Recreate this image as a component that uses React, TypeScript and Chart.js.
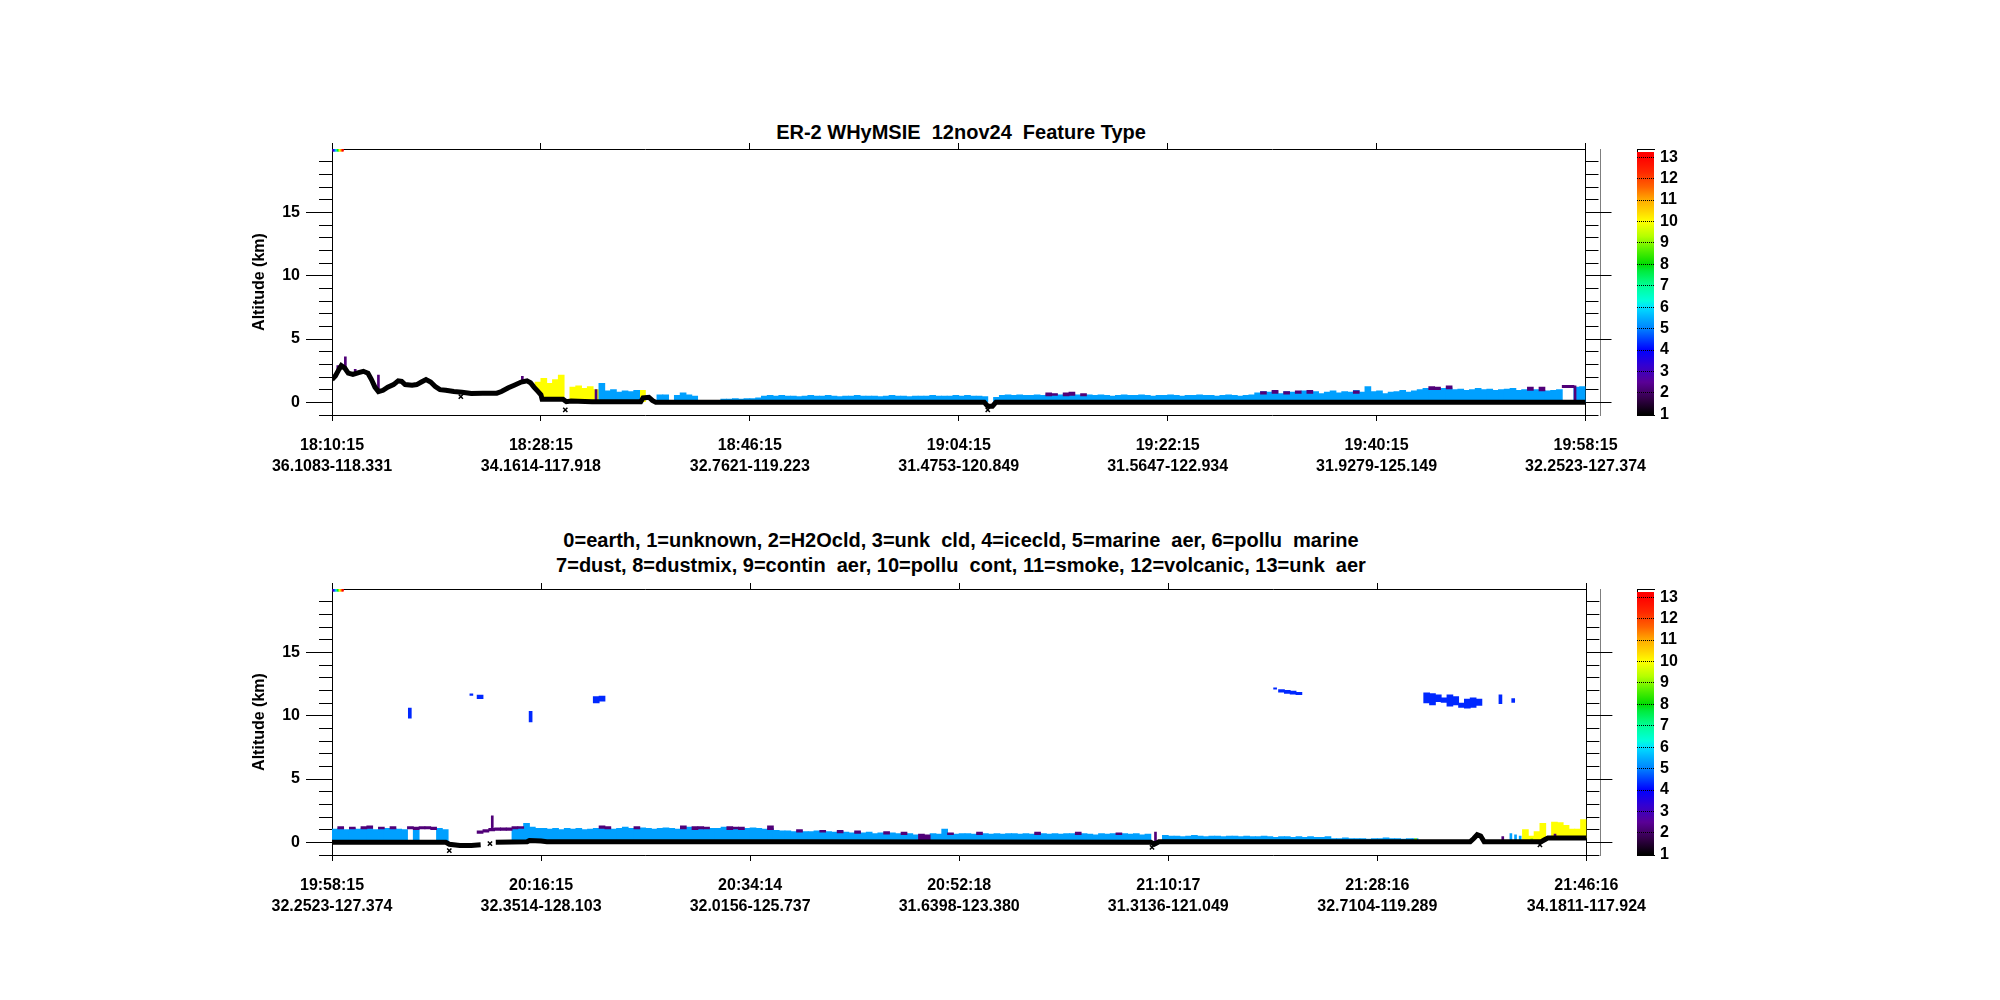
import React, { useEffect, useRef } from "react";
import { Chart, registerables } from "chart.js";

Chart.register(...registerables);

const FONT = "'Liberation Sans', Arial, Helvetica, sans-serif";
const COL = 0.5; // width of one lidar column, minutes

// ---------- axis labels ----------
const xTickMinutes = [0, 18, 36, 54, 72, 90, 108];
const p1TimeLabels = ["18:10:15", "18:28:15", "18:46:15", "19:04:15", "19:22:15", "19:40:15", "19:58:15"];
const p1PosLabels = ["36.1083-118.331", "34.1614-117.918", "32.7621-119.223", "31.4753-120.849", "31.5647-122.934", "31.9279-125.149", "32.2523-127.374"];
const p2TimeLabels = ["19:58:15", "20:16:15", "20:34:14", "20:52:18", "21:10:17", "21:28:16", "21:46:16"];
const p2PosLabels = ["32.2523-127.374", "32.3514-128.103", "32.0156-125.737", "31.6398-123.380", "31.3136-121.049", "32.7104-119.289", "34.1811-117.924"];
const yMajorTicks = [0, 5, 10, 15];
const yMinorTicks = [-1, 1, 2, 3, 4, 6, 7, 8, 9, 11, 12, 13, 14, 16, 17, 18, 19];
const colorbarTicks = [1, 2, 3, 4, 5, 6, 7, 8, 9, 10, 11, 12, 13];

// ---------- feature type colours ----------
const TYPE_COLORS: Record<number, string> = {
  1: "rgb(30,0,40)",
  2: "rgb(80,0,120)",
  3: "rgb(60,0,200)",
  4: "rgb(0,40,255)",
  5: "rgb(0,160,255)",
  6: "rgb(0,230,240)",
  7: "rgb(0,240,140)",
  8: "rgb(0,220,0)",
  9: "rgb(160,255,0)",
  10: "rgb(255,255,0)",
  11: "rgb(255,170,0)",
  12: "rgb(255,80,0)",
  13: "rgb(255,0,0)",
};

// colour bar (rainbow + white table)
const CB_MIN = 0.97;
const CB_MAX = 13.38;
const CB_LO = 0.97;
const CB_HI = 13.22;
const colorbarStopValues = [1.0, 1.7, 2.5, 3.3, 4.0, 4.7, 5.0, 5.5, 6.0, 6.3, 7.0, 7.7, 8.0, 8.7, 9.3, 10.0, 10.5, 11.0, 11.6, 12.3, 13.0, 13.22];
const colorbarStopColors = [
  "rgb(0,0,0)", "rgb(50,0,70)", "rgb(90,0,150)", "rgb(50,0,210)", "rgb(0,0,255)", "rgb(0,90,255)",
  "rgb(0,130,255)", "rgb(0,175,255)", "rgb(0,225,255)", "rgb(0,255,220)", "rgb(0,255,150)", "rgb(0,235,60)",
  "rgb(0,220,0)", "rgb(90,240,0)", "rgb(180,255,0)", "rgb(255,255,0)", "rgb(255,210,0)", "rgb(255,170,0)",
  "rgb(255,100,0)", "rgb(255,40,0)", "rgb(255,0,0)", "rgb(255,0,0)",
];

// calibration strip in the top-left corner of each curtain
const stripMinutes = [0.06, 0.14, 0.22, 0.3, 0.38, 0.46, 0.54, 0.62, 0.7, 0.78, 0.86, 0.94];
const stripTypes = [2, 3, 4, 5, 6, 7, 8, 9, 10, 11, 12, 13];

type Run = [number, number[]]; // [first column, layer tops (km)]
type Cap = [number, number, number]; // [column, bottom km, top km]
type Thin = [number, number, number]; // [minute, bottom km, top km]

// ---------- plot 1 : 18:10:15 - 19:58:15 ----------
const p1GroundMin = [0, 0.3, 0.6, 0.8, 1.1, 1.4, 1.8, 2.3, 2.7, 3.1, 3.4, 3.7, 4.0, 4.4, 4.8, 5.3, 5.7, 6.0, 6.3, 6.9, 7.3, 7.7, 8.1, 8.5, 8.9, 9.3, 9.8, 10.5, 11.2, 12, 13, 14.2, 14.6, 15.2, 15.7, 16.3, 16.8, 17.1, 17.4, 17.7, 18.0, 18.1, 19.9, 20.2, 20.6, 22.4, 26.6, 26.8, 27.3, 27.6, 27.9, 56.2, 56.5, 56.9, 57.2, 108];
const p1GroundKm: (number | null)[] = [1.8, 2.1, 2.6, 2.9, 2.7, 2.3, 2.2, 2.35, 2.45, 2.3, 1.8, 1.2, 0.85, 0.95, 1.2, 1.4, 1.7, 1.65, 1.4, 1.35, 1.4, 1.6, 1.8, 1.6, 1.25, 1.0, 0.95, 0.85, 0.8, 0.7, 0.72, 0.72, 0.85, 1.15, 1.35, 1.6, 1.7, 1.55, 1.2, 0.9, 0.6, 0.25, 0.25, 0.05, 0.1, 0.05, 0.05, 0.35, 0.4, 0.15, 0.0, 0.0, -0.3, -0.3, 0.0, 0.0];
const p1OutlierMin = [11.1, 20.1, 56.5];
const p1OutlierKm = [0.45, -0.6, -0.6];
const p1MarineRuns: Run[] = [
  [46, [1.5, 0.9, 1.0, 0.8, 0.9, 0.85, 0.95]],
  [56, [0.6, 0.6]],
  [59, [0.55, 0.75, 0.6, 0.5]],
  [67, [0.25, 0.25, 0.3, 0.25, 0.3, 0.3, 0.35, 0.5]],
  [75, [0.55, 0.5, 0.55, 0.5, 0.5, 0.45, 0.5, 0.55, 0.5, 0.5, 0.55, 0.5, 0.45, 0.5, 0.5, 0.55, 0.5, 0.5, 0.5, 0.45, 0.5, 0.55, 0.5, 0.5, 0.45, 0.5, 0.5, 0.5, 0.55, 0.5, 0.5, 0.5, 0.55, 0.5, 0.55, 0.5, 0.5, 0.45]],
  [114, [0.4, 0.55, 0.6, 0.55, 0.6, 0.55, 0.55, 0.6, 0.55, 0.6, 0.65, 0.6, 0.6, 0.65, 0.6, 0.55, 0.6, 0.55, 0.6, 0.55, 0.5, 0.55, 0.6, 0.55, 0.55, 0.6, 0.55, 0.5, 0.55, 0.55, 0.6, 0.55, 0.5, 0.55, 0.55, 0.6, 0.55, 0.55, 0.5, 0.55, 0.6, 0.55, 0.5, 0.55, 0.6]],
  [159, [0.75, 0.85, 0.8, 0.9, 0.7, 0.85, 0.8, 0.75, 0.9, 0.8, 0.85, 0.7, 0.8, 0.9, 0.75, 0.85, 0.8, 0.95, 0.8, 1.25, 0.85, 0.9, 0.7, 0.8, 0.85, 0.95, 0.8, 0.9]],
  [187, [1.0, 1.1, 1.05, 1.0, 1.1, 1.15, 1.0, 1.05, 0.95, 1.0, 1.1, 1.0, 1.05, 0.95, 1.0, 1.05, 1.1, 0.95, 1.0, 0.95, 1.0, 0.95, 0.9, 0.95, 1.0]],
  [214, [1.2, 1.25]],
];
const p1MarineThin: Thin[] = [];
const p1YellowRuns: Run[] = [
  [35, [1.6, 1.9, 1.5, 1.8, 2.15]],
  [41, [1.2, 1.3, 1.1, 1.25, 1.0]],
  [53, [0.95]],
];
const p1PurpleCaps: Cap[] = [
  [123, 0.5, 0.75], [124, 0.55, 0.7], [126, 0.5, 0.75], [127, 0.55, 0.8], [129, 0.5, 0.7],
  [160, 0.65, 0.85], [162, 0.7, 0.95], [164, 0.65, 0.85], [166, 0.7, 0.9], [168, 0.7, 0.95], [176, 0.7, 0.9],
  [189, 1.0, 1.25], [190, 1.0, 1.2], [192, 1.05, 1.3], [206, 0.95, 1.2], [208, 0.9, 1.2], [212, 1.15, 1.35], [213, 1.15, 1.35],
];
const p1PurpleThin: Thin[] = [
  [0.5, 2.4, 2.9], [1.15, 2.8, 3.6], [2.0, 2.35, 2.6], [4.0, 1.0, 2.15], [16.4, 1.7, 2.05], [22.75, 0.1, 1.0], [107.1, 0.1, 1.3],
];
const p1IceCaps: Cap[] = [];
const p1IceThin: Thin[] = [];
const p1GreenThin: Thin[] = [];

// ---------- plot 2 : 19:58:15 - 21:46:16 ----------
const p2GroundMin = [0, 9.8, 10.1, 11, 12, 12.8, 13.4, 14.1, 16.8, 17.0, 18.0, 18.5, 40, 70.5, 70.8, 71.2, 98, 98.3, 98.6, 98.9, 99.2, 104.1, 104.4, 104.7, 108];
const p2GroundKm: (number | null)[] = [0, 0, -0.15, -0.25, -0.25, -0.2, null, 0, 0.05, 0.15, 0.1, 0.05, 0.05, 0.0, -0.15, 0.05, 0.05, 0.3, 0.6, 0.5, 0.05, 0.05, 0.2, 0.35, 0.35];
const p2OutlierMin = [10.1, 13.6, 70.6, 104.0];
const p2OutlierKm = [-0.65, -0.1, -0.4, -0.2];
const p2MarineRuns: Run[] = [
  [0, [1.05, 1.1, 1.0, 1.1, 1.05, 1.1, 1.1, 1.0, 1.05, 1.1, 1.1, 1.05, 1.0]],
  [14, [1.0]],
  [18, [1.1, 1.0]],
  [31, [1.1, 1.15, 1.5, 1.2, 1.1, 1.1, 1.05, 1.1, 1.0, 1.1, 1.05, 1.1, 1.0, 1.05, 1.1, 1.1, 1.15, 1.05, 1.1, 1.2, 1.1, 1.05, 1.15, 1.1, 1.05, 1.1, 1.15, 1.1, 1.05, 1.1, 1.2, 1.1, 1.15, 1.05, 1.1, 1.1, 1.2, 1.15, 1.1, 1.05, 1.1, 1.15, 1.1, 1.05, 1.1]],
  [76, [0.95, 0.9, 0.9, 0.85, 0.9, 0.85, 0.85, 0.9, 0.8, 0.85, 0.8, 0.85, 0.8, 0.75, 0.8, 0.75, 0.8, 0.7, 0.75, 0.7, 0.75, 0.7, 0.65, 0.7, 0.6]],
  [103, [0.7, 0.65, 1.05, 0.7, 0.65, 0.7, 0.7, 0.65, 0.7, 0.7, 0.65, 0.7, 0.65, 0.7, 0.7, 0.65, 0.7, 0.65, 0.7, 0.7, 0.65, 0.7, 0.65, 0.7, 0.7, 0.65, 0.7, 0.65, 0.6, 0.7, 0.65, 0.7, 0.65, 0.7, 0.65, 0.7, 0.6, 0.65]],
  [143, [0.55, 0.5, 0.5, 0.45, 0.5, 0.55, 0.5, 0.45, 0.5, 0.5, 0.45, 0.5, 0.5, 0.45, 0.5, 0.45, 0.45, 0.5, 0.45, 0.4, 0.45, 0.45, 0.4, 0.45, 0.4, 0.45, 0.4, 0.4, 0.45]],
  [172, [0.3, 0.3, 0.35, 0.3, 0.3, 0.3, 0.25, 0.3, 0.3, 0.35, 0.3, 0.3, 0.25, 0.3, 0.3]],
];
const p2MarineThin: Thin[] = [[101.5, 0.05, 0.7], [101.9, 0.05, 0.6], [102.3, 0.05, 0.5]];
const p2YellowRuns: Run[] = [
  [205, [1.0, 0.5, 0.85, 1.5]],
  [210, [1.6, 1.55, 1.35, 1.05, 1.05, 1.8]],
];
const p2PurpleCaps: Cap[] = [
  [1, 1.05, 1.25], [3, 1.05, 1.2], [5, 1.05, 1.25], [6, 1.1, 1.3], [8, 1.05, 1.2], [10, 1.05, 1.25],
  [13, 1.05, 1.25], [14, 1.0, 1.2], [15, 1.05, 1.25], [16, 1.05, 1.25], [17, 1.0, 1.2],
  [25, 0.7, 0.9], [26, 0.8, 1.0], [27, 0.9, 1.1], [28, 0.95, 1.15], [29, 0.95, 1.15], [30, 0.95, 1.15],
  [31, 1.05, 1.25], [32, 1.1, 1.25], [46, 1.1, 1.3], [47, 1.05, 1.25], [52, 1.05, 1.25], [60, 1.05, 1.3],
  [62, 1.0, 1.25], [63, 1.05, 1.25], [64, 1.05, 1.2], [68, 1.0, 1.25], [69, 1.05, 1.2], [70, 1.0, 1.2],
  [75, 1.0, 1.3], [80, 0.8, 1.0], [84, 0.8, 0.95], [87, 0.75, 0.95], [90, 0.7, 0.9], [95, 0.65, 0.85],
  [98, 0.6, 0.8], [101, 0.05, 0.65], [102, 0.05, 0.6], [106, 0.6, 0.75], [111, 0.6, 0.8], [121, 0.6, 0.8],
  [128, 0.6, 0.8], [135, 0.6, 0.75],
];
const p2PurpleThin: Thin[] = [[13.8, 1.0, 2.1], [70.9, 0.0, 0.8], [100.8, 0.1, 0.45], [105.3, 0.4, 0.65]];
const p2IceCaps: Cap[] = [
  [25, 11.35, 11.62], [45, 11.0, 11.5], [46, 11.15, 11.55],
  [163, 11.85, 12.05], [164, 11.75, 12.0], [165, 11.7, 11.95], [166, 11.65, 11.85],
  [188, 11.0, 11.8], [189, 10.85, 11.75], [190, 11.1, 11.65], [191, 11.05, 11.4], [192, 10.75, 11.65],
  [193, 10.85, 11.5], [194, 10.65, 11.0], [195, 10.6, 11.3], [196, 10.65, 11.4], [197, 10.8, 11.3],
];
const p2IceThin: Thin[] = [[6.7, 9.8, 10.6], [12.0, 11.6, 11.72], [17.1, 9.5, 10.35], [81.2, 12.1, 12.2], [100.6, 10.95, 11.65], [101.7, 11.05, 11.35]];
const p2GreenThin: Thin[] = [[93.3, 0.05, 0.3], [103.3, 0.1, 0.3]];

interface PlotData {
  time: string[];
  pos: string[];
  groundMin: number[];
  groundKm: (number | null)[];
  outlierMin: number[];
  outlierKm: number[];
  marineRuns: Run[];
  marineThin: Thin[];
  yellowRuns: Run[];
  purpleCaps: Cap[];
  purpleThin: Thin[];
  iceCaps: Cap[];
  iceThin: Thin[];
  greenThin: Thin[];
}

const PLOT1: PlotData = {
  time: p1TimeLabels, pos: p1PosLabels, groundMin: p1GroundMin, groundKm: p1GroundKm,
  outlierMin: p1OutlierMin, outlierKm: p1OutlierKm, marineRuns: p1MarineRuns, marineThin: p1MarineThin,
  yellowRuns: p1YellowRuns, purpleCaps: p1PurpleCaps, purpleThin: p1PurpleThin, iceCaps: p1IceCaps,
  iceThin: p1IceThin, greenThin: p1GreenThin,
};
const PLOT2: PlotData = {
  time: p2TimeLabels, pos: p2PosLabels, groundMin: p2GroundMin, groundKm: p2GroundKm,
  outlierMin: p2OutlierMin, outlierKm: p2OutlierKm, marineRuns: p2MarineRuns, marineThin: p2MarineThin,
  yellowRuns: p2YellowRuns, purpleCaps: p2PurpleCaps, purpleThin: p2PurpleThin, iceCaps: p2IceCaps,
  iceThin: p2IceThin, greenThin: p2GreenThin,
};

// ---------- helpers ----------
function groundAt(d: PlotData, m: number): number {
  let v = 0;
  for (let i = 0; i < d.groundMin.length; i++) {
    const g = d.groundKm[i];
    if (d.groundMin[i] <= m && g !== null) v = g;
  }
  return v;
}
const colCenter = (c: number) => c * COL + COL / 2;
function runsToBars(runs: Run[], d: PlotData) {
  const out: { x: number; y: [number, number] }[] = [];
  runs.forEach(([start, tops]) =>
    tops.forEach((t, k) => {
      const x = colCenter(start + k);
      out.push({ x, y: [groundAt(d, x), t] });
    })
  );
  return out;
}
const capsToBars = (caps: Cap[]) => caps.map(([c, lo, hi]) => ({ x: colCenter(c), y: [lo, hi] }));
const thinToBars = (th: Thin[]) => th.map(([m, lo, hi]) => ({ x: m, y: [lo, hi] }));

const tickFont = { family: FONT, size: 16, weight: "bold" as const, lineHeight: 1.3 };

function makePlotConfig(d: PlotData): any {
  const bar = (label: string, data: any[], color: any, thickness: number, order: number) => ({
    type: "bar", label, data, backgroundColor: color, barThickness: thickness, grouped: false,
    borderWidth: 0, order, xAxisID: "x", yAxisID: "y",
  });
  const datasets = [
    {
      type: "line", label: "0=earth", data: d.groundMin.map((m, i) => ({ x: m, y: d.groundKm[i] })),
      borderColor: "#000", borderWidth: 5, pointRadius: 0, spanGaps: false, order: 0, xAxisID: "x", yAxisID: "y",
    },
    {
      type: "scatter", label: "earth (isolated)", data: d.outlierMin.map((m, i) => ({ x: m, y: d.outlierKm[i] })),
      pointStyle: "crossRot", pointRadius: 3, borderColor: "#000", backgroundColor: "#000", borderWidth: 1.5,
      order: 0, xAxisID: "x", yAxisID: "y",
    },
    bar("2=H2Ocld", capsToBars(d.purpleCaps), TYPE_COLORS[2], 6, 1),
    bar("2=H2Ocld (thin)", thinToBars(d.purpleThin), TYPE_COLORS[2], 2, 1),
    bar("9=contin aer", thinToBars(d.greenThin), TYPE_COLORS[9], 2, 1),
    bar("type strip", stripMinutes.map((m) => ({ x: m, y: [19.82, 20] })), stripTypes.map((t) => TYPE_COLORS[t]), 1.2, 1),
    bar("4=icecld", capsToBars(d.iceCaps), TYPE_COLORS[4], 6, 2),
    bar("4=icecld (thin)", thinToBars(d.iceThin), TYPE_COLORS[4], 3, 2),
    bar("5=marine aer", runsToBars(d.marineRuns, d), TYPE_COLORS[5], 6, 3),
    bar("5=marine aer (thin)", thinToBars(d.marineThin), TYPE_COLORS[5], 2, 3),
    bar("10=pollu cont", runsToBars(d.yellowRuns, d), TYPE_COLORS[10], 6, 3),
  ];
  const setTicks = (vals: number[]) => (s: any) => {
    s.ticks = vals.map((v) => ({ value: v }));
  };
  const border = { display: true, color: "#000", width: 1 };
  return {
    type: "bar",
    data: { datasets },
    options: {
      animation: false,
      responsive: false,
      devicePixelRatio: 1,
      events: [],
      layout: { padding: { left: 250, right: 0, top: 0, bottom: 0 } },
      plugins: { legend: { display: false }, tooltip: { enabled: false }, title: { display: false } },
      scales: {
        x: {
          type: "linear", position: "bottom", min: 0, max: 108, offset: false,
          afterBuildTicks: setTicks(xTickMinutes),
          afterFit: (s: any) => { s.height = 85; },
          grid: { offset: false, drawOnChartArea: false, drawTicks: true, tickLength: 6, tickColor: "#000", tickWidth: 1 },
          border,
          ticks: {
            autoSkip: false, maxRotation: 0, minRotation: 0, padding: 14, color: "#000", font: tickFont,
            callback: (_v: any, i: number) => [d.time[i], d.pos[i]],
          },
        },
        x2: {
          type: "linear", position: "top", min: 0, max: 108, offset: false,
          afterBuildTicks: setTicks(xTickMinutes),
          afterFit: (s: any) => { s.height = 49; },
          grid: { offset: false, drawOnChartArea: false, drawTicks: true, tickLength: 6, tickColor: "#000", tickWidth: 1 },
          border,
          ticks: { display: false },
        },
        y: {
          type: "linear", position: "left", min: -1, max: 20, weight: 1,
          afterBuildTicks: setTicks(yMajorTicks),
          afterFit: (s: any) => { s.width = 82; },
          grid: { drawOnChartArea: false, drawTicks: true, tickLength: 26, tickColor: "#000", tickWidth: 1 },
          border,
          ticks: { autoSkip: false, padding: 6, color: "#000", font: tickFont, callback: (v: any) => String(v) },
          title: {
            display: true, text: "Altitude (km)", color: "#000", padding: { top: 0, bottom: 0 },
            font: { family: FONT, size: 16, weight: "bold" },
          },
        },
        yMinor: {
          type: "linear", position: "left", min: -1, max: 20, weight: 0,
          afterBuildTicks: setTicks(yMinorTicks),
          afterFit: (s: any) => { s.width = 0; },
          grid: { drawOnChartArea: false, drawTicks: true, tickLength: 13, tickColor: "#000", tickWidth: 1 },
          border: { display: false },
          ticks: { display: false, autoSkip: false },
        },
        y2: {
          type: "linear", position: "right", min: -1, max: 20, weight: 1,
          afterBuildTicks: setTicks(yMajorTicks),
          afterFit: (s: any) => { s.width = 70; },
          grid: { drawOnChartArea: false, drawTicks: true, tickLength: 26, tickColor: "#000", tickWidth: 1 },
          border,
          ticks: { display: false, autoSkip: false },
        },
        y2Minor: {
          type: "linear", position: "right", min: -1, max: 20, weight: 0,
          afterBuildTicks: setTicks(yMinorTicks),
          afterFit: (s: any) => { s.width = 0; },
          grid: { drawOnChartArea: false, drawTicks: true, tickLength: 13, tickColor: "#000", tickWidth: 1 },
          border: { display: false },
          ticks: { display: false, autoSkip: false },
        },
      },
    },
  };
}

function makeColorbarConfig(): any {
  return {
    type: "bar",
    data: {
      labels: ["Feature Type"],
      datasets: [
        {
          label: "Feature Type",
          data: [[CB_LO, CB_HI]],
          barPercentage: 1,
          categoryPercentage: 1,
          borderWidth: 0,
          xAxisID: "x",
          yAxisID: "y",
          backgroundColor: (ctx: any) => {
            const chart = ctx.chart;
            const ys = chart.scales && chart.scales.y;
            if (!ys || !chart.chartArea) return "rgba(0,0,0,0)";
            const g = chart.ctx.createLinearGradient(0, ys.getPixelForValue(CB_LO), 0, ys.getPixelForValue(CB_HI));
            colorbarStopValues.forEach((v, i) =>
              g.addColorStop(Math.min(1, Math.max(0, (v - CB_LO) / (CB_HI - CB_LO))), colorbarStopColors[i])
            );
            return g;
          },
        },
      ],
    },
    options: {
      animation: false,
      responsive: false,
      devicePixelRatio: 1,
      events: [],
      layout: { padding: { left: 37, right: 0, top: 49, bottom: 85 } },
      plugins: { legend: { display: false }, tooltip: { enabled: false } },
      scales: {
        x: {
          type: "category", position: "bottom", offset: true,
          afterFit: (s: any) => { s.height = 0; },
          grid: { display: false }, border: { display: true, color: "#000" }, ticks: { display: false },
        },
        xTop: {
          type: "category", position: "top", offset: true, labels: ["Feature Type"],
          afterFit: (s: any) => { s.height = 0; },
          grid: { display: false }, border: { display: true, color: "#000" }, ticks: { display: false },
        },
        yLeft: {
          type: "linear", position: "left", min: CB_MIN, max: CB_MAX,
          afterFit: (s: any) => { s.width = 0; },
          grid: { display: false }, border: { display: true, color: "#000" }, ticks: { display: false },
        },
        y: {
          type: "linear", position: "right", min: CB_MIN, max: CB_MAX,
          afterBuildTicks: (s: any) => { s.ticks = colorbarTicks.map((v) => ({ value: v })); },
          afterFit: (s: any) => { s.width = 66; },
          grid: { display: true, drawOnChartArea: true, drawTicks: false, color: "#000", lineWidth: 1, z: 1 },
          border: { display: true, color: "#000", dash: [1, 1] },
          ticks: {
            autoSkip: false, padding: 6, color: "#000",
            font: { family: FONT, size: 16, weight: "bold" }, callback: (v: any) => String(v),
          },
        },
      },
    },
  };
}

function PlotChart({ d, top }: { d: PlotData; top: number }) {
  const ref = useRef<HTMLCanvasElement>(null);
  useEffect(() => {
    const chart = new Chart(ref.current as HTMLCanvasElement, makePlotConfig(d));
    return () => chart.destroy();
  }, [d]);
  return (
    <canvas ref={ref} width={1660} height={400}
      style={{ position: "absolute", left: 0, top, width: 1660, height: 400 }} />
  );
}

function ColorbarChart({ top }: { top: number }) {
  const ref = useRef<HTMLCanvasElement>(null);
  useEffect(() => {
    const chart = new Chart(ref.current as HTMLCanvasElement, makeColorbarConfig());
    return () => chart.destroy();
  }, []);
  return (
    <canvas ref={ref} width={120} height={400}
      style={{ position: "absolute", left: 1600, top, width: 120, height: 400 }} />
  );
}

const textStyle = (top: number): React.CSSProperties => ({
  position: "absolute", left: 361, width: 1200, top, textAlign: "center", fontFamily: FONT,
  fontWeight: "bold", fontSize: 20, lineHeight: "24px", whiteSpace: "pre", color: "#000",
});

export default function App() {
  return (
    <div style={{ position: "absolute", left: 0, top: 0, width: 2000, height: 1000, background: "#fff", overflow: "hidden" }}>
      <div style={textStyle(120)}>{"ER-2 WHyMSIE  12nov24  Feature Type"}</div>
      <div style={textStyle(528)}>{"0=earth, 1=unknown, 2=H2Ocld, 3=unk  cld, 4=icecld, 5=marine  aer, 6=pollu  marine"}</div>
      <div style={textStyle(553)}>{"7=dust, 8=dustmix, 9=contin  aer, 10=pollu  cont, 11=smoke, 12=volcanic, 13=unk  aer"}</div>
      <PlotChart d={PLOT1} top={100} />
      <ColorbarChart top={100} />
      <PlotChart d={PLOT2} top={540} />
      <ColorbarChart top={540} />
    </div>
  );
}
